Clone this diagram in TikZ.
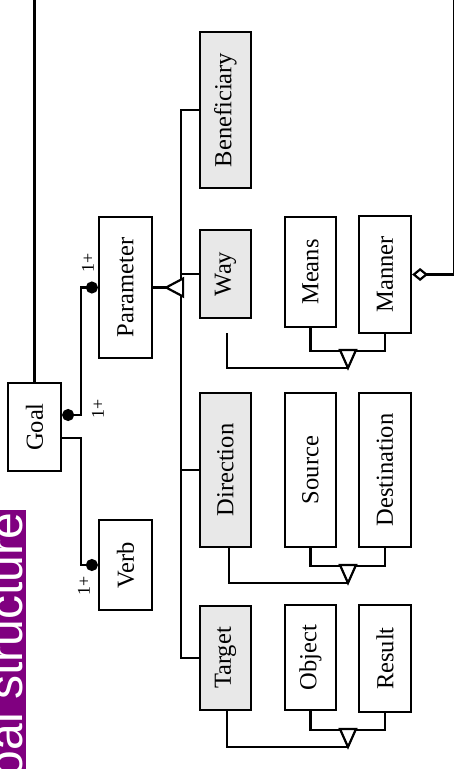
\documentclass[tikz,border=0pt]{standalone}
\usepackage{graphicx}
\usepackage{fontspec}
\setmainfont{Liberation Serif}
\newfontfamily\titlefont{Liberation Sans}
\usetikzlibrary{arrows.meta}
\definecolor{boxgray}{RGB}{232,232,232}
\definecolor{titlepurple}{RGB}{128,0,128}
\begin{document}
\begin{tikzpicture}[x=1pt,y=-1pt,line width=2.2pt,
  cls/.style={draw, rectangle, inner sep=0pt, font=\fontsize{24.5}{29}\selectfont},
  role/.style={cls, fill=boxgray},
  mult/.style={rotate=90, inner sep=0pt, font=\fontsize{18}{20}\selectfont},
  dotend/.style={-{Circle[length=12pt]}},
  dotboth/.style={{Circle[length=12pt]}-{Circle[length=12pt]}},
  aggr/.style={{Diamond[open,length=16pt,width=13pt]}-},
  gentri/.style={draw, fill=white, line join=miter}
]
\useasboundingbox (0,0) rectangle (454,769);

% title strip
\begin{scope}
  \clip (0,510) rectangle (26,769);
  \fill[titlepurple] (0,510) rectangle (26,769);
  \node[rotate=90, anchor=base east, text=white, inner sep=0pt,
        font=\titlefont\fontsize{48}{50}\selectfont] (title) at (22,512) {Goal structure};
\end{scope}

% classes
\node[cls, minimum width=53pt, minimum height=88pt]  (goal)  at (34.5,427)  {\rotatebox{90}{Goal}};
\node[cls, minimum width=53pt, minimum height=141pt] (param) at (125.5,287.5) {\rotatebox{90}{Parameter}};
\node[cls, minimum width=53pt, minimum height=90pt]  (verb)  at (125.5,565)  {\rotatebox{90}{Verb}};

\node[role, minimum width=51pt, minimum height=156pt] (benef)  at (225.5,110) {\rotatebox{90}{Beneficiary}};
\node[role, minimum width=51pt, minimum height=88pt]  (way)    at (225.5,274) {\rotatebox{90}{Way}};
\node[role, minimum width=51pt, minimum height=154pt] (dir)    at (225.5,470) {\rotatebox{90}{Direction}};
\node[role, minimum width=51pt, minimum height=104pt] (target) at (225.5,658) {\rotatebox{90}{Target}};

\node[cls, minimum width=51pt, minimum height=110pt] (means)  at (310.5,272)   {\rotatebox{90}{Means}};
\node[cls, minimum width=51pt, minimum height=154pt] (source) at (310.5,470)   {\rotatebox{90}{Source}};
\node[cls, minimum width=51pt, minimum height=105pt] (object) at (310.5,657.5) {\rotatebox{90}{Object}};

\node[cls, minimum width=52pt, minimum height=117pt] (manner) at (385,274.5) {\rotatebox{90}{Manner}};
\node[cls, minimum width=52pt, minimum height=154pt] (dest)   at (385,470)   {\rotatebox{90}{Destination}};
\node[cls, minimum width=52pt, minimum height=107pt] (result) at (385,658.5) {\rotatebox{90}{Result}};

% goal composition links
\draw[dotboth] ([yshift=12pt]goal.east) -- ++(19,0) |- (param.west);
\draw[dotend] ([yshift=-11pt]goal.east) -- ++(19,0) |- (verb.west);
\node[mult] (mP) at (88,263) {1+};
\node[mult] (mG) at (98,409) {1+};
\node[mult] (mV) at (84,586) {1+};

% manner aggregated by goal
\draw[aggr] (manner.east) -- ++(42,0) -- ++(0,-300) -| (goal.north);

% parameter specialisations
\draw (benef.west) -- ++(-18,0) |- (target.west);
\draw (way.west) -- ++(-18,0);
\draw (dir.west) -- ++(-18,0);
\coordinate (pApex) at ([xshift=13pt]param.east);
\draw (param.east) -- (pApex);
\draw[gentri] (pApex) -- ++(17,-9) -- ++(0,18) -- cycle;

% way: means / manner
\coordinate (wApex) at (348,368);
\draw (means.south) -- ++(0,23) -| (manner.south);
\draw (wApex) -| ([xshift=1.5pt,yshift=-14pt]way.south);
\draw[gentri] (wApex) -- ++(-8,-18) -- ++(16,0) -- cycle;

% direction: source / destination
\coordinate (dApex) at (348,583);
\draw (source.south) -- ++(0,18) -| (dest.south);
\draw (dApex) -| ([xshift=3.5pt]dir.south);
\draw[gentri] (dApex) -- ++(-8,-18) -- ++(16,0) -- cycle;

% target: object / result
\coordinate (tApex) at (348,747);
\draw (object.south) -- ++(0,19) -| (result.south);
\draw (tApex) -| ([xshift=1.5pt]target.south);
\draw[gentri] (tApex) -- ++(-8,-18) -- ++(16,0) -- cycle;
\end{tikzpicture}
\end{document}
